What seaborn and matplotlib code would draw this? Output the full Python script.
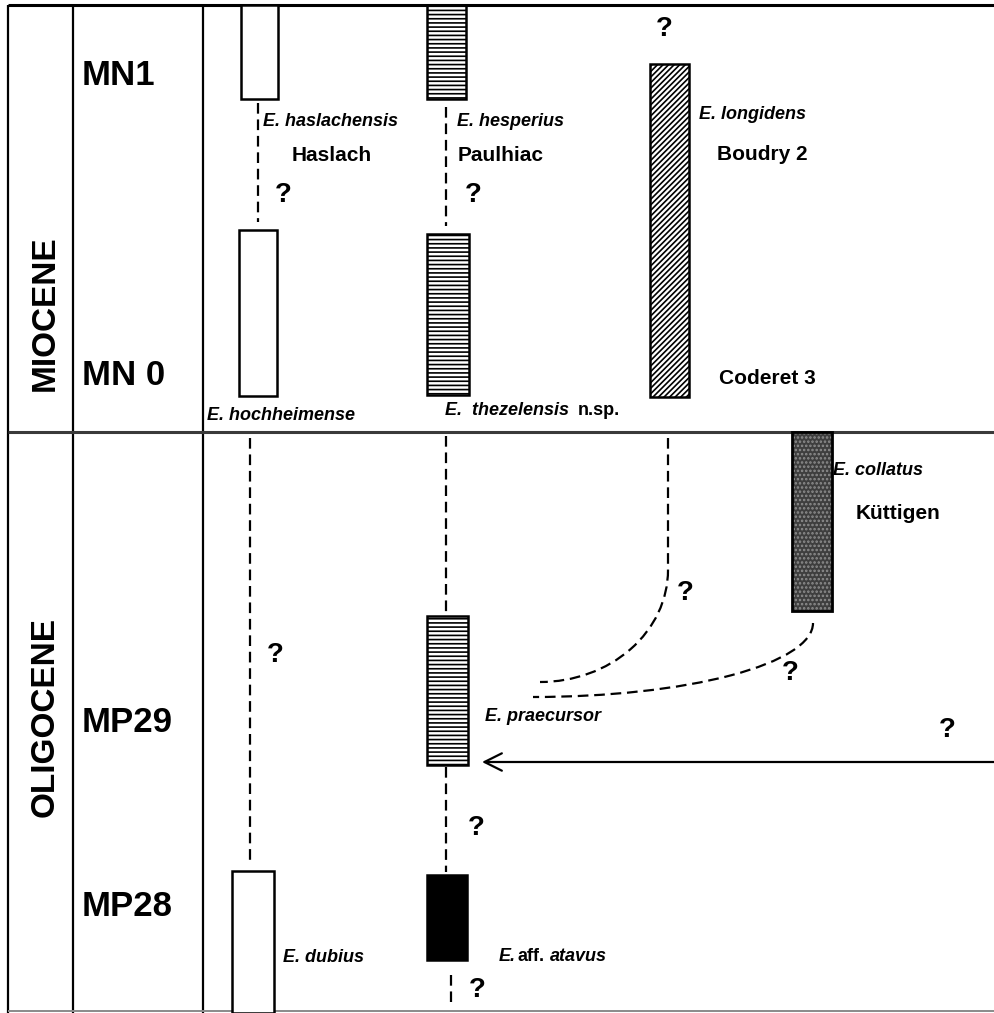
import matplotlib
matplotlib.use("Agg")
import matplotlib.pyplot as plt
from matplotlib.patches import Arc
import seaborn as sns

# ---------------- data (chart units = px-like positions) ----------------
epochs = ["MIOCENE", "OLIGOCENE"]
epoch_mid = [313, 717]

zones = ["MN1", "MN 0", "MP29", "MP28"]
zone_y = [75, 375, 722, 906]

taxa = ["E. haslachensis", "E. hochheimense", "E. dubius",
        "E. hesperius", "E. thezelensis", "E. praecursor", "E. aff. atavus",
        "E. longidens", "E. collatus"]
bar_left = [241, 239, 232, 427, 427, 427, 427, 650, 792]
bar_right = [278, 277, 274, 466, 469, 468, 467, 689, 832]
range_top = [5, 230, 871, 5, 234, 616, 875, 64, 432]
range_bottom = [99, 396, 1013, 99, 395, 765, 960, 397, 611]
pattern = ["open", "open", "open", "hlines", "hlines", "hlines", "solid", "diag", "stipple"]

# uncertain (dashed) links
link_x = [258, 446, 250, 446, 446, 451, 668]
link_top = [103, 107, 438, 436, 767, 975, 438]
link_bottom = [222, 226, 862, 615, 872, 1002, 570]

# curved links: ellipse-quadrant centre and radii
curve_cx = [540, 533]
curve_cy = [570, 623]
curve_rx = [128, 280]
curve_ry = [112, 74]

# immigration arrow
arrow_y = 762
arrow_from = 995
arrow_to = 482

# species labels (italic)
sp_text = ["E. haslachensis", "E. hesperius", "E. longidens", "E. hochheimense",
           "E.  thezelensis", "E. collatus", "E. praecursor", "E. dubius", "E.", "atavus"]
sp_x = [263, 457, 699, 207, 445, 833, 485, 283, 499, 550]
sp_y = [121, 121, 114, 415, 410, 470, 716, 957, 956, 956]

# plain bold labels (localities etc.)
loc_text = ["Haslach", "Paulhiac", "Boudry 2", "Coderet 3", "Küttigen", "n.sp.", "aff."]
loc_x = [292, 458, 717, 719, 856, 578, 517]
loc_y = [155, 155, 154, 378, 513, 410, 956]
loc_size = [15, 15, 15, 15, 15, 13, 13]

# question marks
q_x = [283, 473, 664, 275, 685, 790, 947, 476, 477]
q_y = [195, 195, 29, 655, 593, 673, 730, 828, 990]

# frame
col_lines = [8, 73, 203]
row_lines = [5, 432]

# ---------------- drawing ----------------
sns.set_theme(style="white")
plt.rcParams["font.family"] = ["Liberation Sans", "DejaVu Sans"]
plt.rcParams["hatch.linewidth"] = 1.2

fig = plt.figure(figsize=(9.95, 10.13), dpi=100)
ax = fig.add_axes([0, 0, 1, 1])
ax.set_xlim(0, 995)
ax.set_ylim(1013, 0)
ax.axis("off")

# frame lines
for x in col_lines:
    ax.vlines(x, row_lines[0], 1013, color="black", lw=1.6)
ax.hlines(row_lines[0], col_lines[0], 995, color="black", lw=2.2)
ax.hlines(row_lines[1], col_lines[0], 995, color="#3a3a3a", lw=2.2)
ax.hlines(1011, col_lines[0], 995, color="#8a8a8a", lw=1.4)

# range bars
styles = {
    "open": dict(facecolor="white", hatch=None),
    "hlines": dict(facecolor="white", hatch="----"),
    "solid": dict(facecolor="black", hatch=None),
    "diag": dict(facecolor="white", hatch="//////"),
    "stipple": dict(facecolor="#3e3e3e", hatch=None),
}
for l, r, t, b, p in zip(bar_left, bar_right, range_top, range_bottom, pattern):
    st = styles[p]
    if p == "stipple":
        ax.bar((l + r) / 2, b - t, bottom=t, width=r - l, facecolor=st["facecolor"],
               edgecolor="black", linewidth=0, zorder=3)
        ax.bar((l + r) / 2, b - t, bottom=t, width=r - l, facecolor="none",
               edgecolor="#8e8e8e", hatch="....", linewidth=0, zorder=3)
        ax.bar((l + r) / 2, b - t, bottom=t, width=r - l, facecolor="none",
               edgecolor="black", linewidth=2.0, zorder=4)
    else:
        ax.bar((l + r) / 2, b - t, bottom=t, width=r - l, facecolor=st["facecolor"],
               edgecolor="black", hatch=st["hatch"], linewidth=1.8, zorder=3)

# dashed links
dash = (0, (4.8, 2.6))
for x, t, b in zip(link_x, link_top, link_bottom):
    ax.plot([x, x], [t, b], color="black", lw=1.6, ls=dash, zorder=2)

for cx, cy, rx, ry in zip(curve_cx, curve_cy, curve_rx, curve_ry):
    ax.add_patch(Arc((cx, cy), 2 * rx, 2 * ry, theta1=0, theta2=90, color="black",
                     lw=1.6, ls=dash, zorder=2))

# arrow
ax.annotate("", xy=(arrow_to, arrow_y), xytext=(arrow_from, arrow_y),
            arrowprops=dict(arrowstyle="->,head_length=0.5,head_width=0.25",
                            mutation_scale=25, lw=1.6, color="black",
                            shrinkA=0, shrinkB=0))

# epoch labels
for name, y in zip(epochs, epoch_mid):
    ax.text(45, y, name, rotation=90, ha="center", va="center", fontsize=24,
            fontweight="bold", color="black")

# zone labels
for name, y in zip(zones, zone_y):
    ax.text(82, y, name, ha="left", va="center", fontsize=25, fontweight="bold",
            color="black")

# species labels
for s, x, y in zip(sp_text, sp_x, sp_y):
    ax.text(x, y, s, ha="left", va="center", fontsize=13, fontweight="bold",
            fontstyle="italic", color="black")

for s, x, y, fs in zip(loc_text, loc_x, loc_y, loc_size):
    ax.text(x, y, s, ha="left", va="center", fontsize=fs, fontweight="bold",
            color="black")

for x, y in zip(q_x, q_y):
    ax.text(x, y, "?", ha="center", va="center", fontsize=20, fontweight="bold",
            color="black")

fig.savefig("out.png", dpi=100)
